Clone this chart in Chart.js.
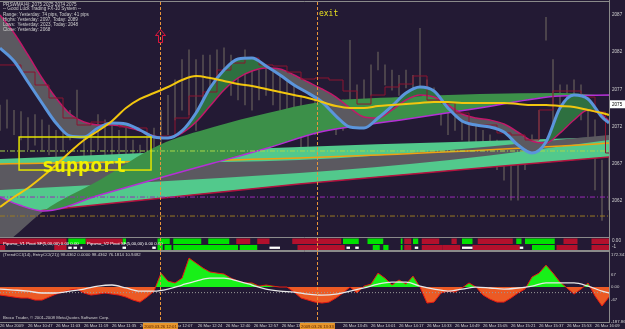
<!DOCTYPE html>
<html><head><meta charset="utf-8">
<script src="https://cdn.jsdelivr.net/npm/chart.js@4.4.1/dist/chart.umd.min.js"></script>
<style>
html,body{margin:0;padding:0;background:#231a34;overflow:hidden;width:625px;height:329px}
canvas{position:absolute;left:0;display:block}
</style></head><body>
<canvas id="cMain" width="625" height="238" style="top:0;width:625px;height:238px"></canvas>
<canvas id="cSig" width="625" height="13" style="top:238px;width:625px;height:13px"></canvas>
<canvas id="cCci" width="625" height="78" style="top:251px;width:625px;height:78px"></canvas>
<script>
// ---------- DATA (x = minutes since first bar) ----------
const gridMinutes = [0,8,16,24,32,40,48,56,64,72,80,88,96,104,112,120,128,136,144,152,160,168,176,184,192,200,208,216,224,232,240,248,256,264,272,280,288,296,304,312,320,328,336,344,348];
const blueCurve = [2082.56,2080.81,2077.99,2075.17,2072.48,2070.73,2070.60,2071.81,2072.48,2072.35,2071.54,2070.60,2070.46,2071.41,2073.82,2077.19,2079.60,2081.08,2081.22,2080.14,2078.93,2077.59,2076.51,2075.30,2073.42,2071.94,2071.81,2073.15,2074.77,2076.51,2077.32,2076.78,2074.50,2072.75,2072.21,2071.94,2071.27,2069.52,2068.45,2069.93,2074.50,2076.24,2075.71,2073.29,2072.48];
const crimsonCurve = [2087.00,2084.58,2081.62,2078.53,2075.84,2073.69,2072.61,2072.21,2072.21,2071.94,2071.41,2070.73,2070.46,2071.14,2072.61,2074.76,2076.92,2078.53,2079.47,2079.87,2079.74,2078.93,2077.99,2077.05,2075.97,2074.49,2073.29,2073.15,2074.23,2075.57,2076.24,2075.97,2074.90,2073.69,2073.15,2072.88,2072.35,2071.27,2070.06,2069.79,2071.14,2072.88,2074.23,2073.56,2072.75];
const stepLine = [2080.28,2080.28,2079.33,2077.59,2075.84,2073.15,2072.21,2072.61,2072.48,2071.94,2071.81,2070.60,2070.73,2073.15,2076.11,2076.65,2079.60,2080.54,2081.22,2080.28,2080.14,2079.33,2078.39,2078.53,2078.26,2076.78,2075.03,2076.24,2077.32,2077.72,2078.80,2075.57,2075.17,2073.82,2072.21,2072.21,2071.14,2070.87,2070.20,2074.23,2076.78,2076.78,2075.97,2073.96,2068.45];
const yellowMA = [2061.19,2062.53,2063.74,2065.22,2066.84,2068.58,2070.20,2071.41,2072.75,2074.50,2075.71,2076.51,2077.32,2078.26,2078.80,2078.53,2078.13,2077.72,2077.45,2077.05,2076.65,2076.24,2075.84,2075.30,2074.76,2074.50,2074.50,2074.76,2074.90,2075.03,2075.17,2075.30,2075.30,2075.17,2075.17,2075.17,2075.17,2075.03,2074.90,2074.90,2074.76,2074.63,2074.23,2073.82,2073.56];

const barMinutes = [0,4,8,12,16,20,24,28,32,36,40,44,48,52,56,60,64,68,72,76,80,84,88,92,96,100,104,108,112,116,120,124,128,132,136,140,144,148,152,156,160,164,168,172,176,180,184,188,192,196,200,204,208,212,216,220,224,228,232,236,240,244,248,252,256,260,264,268,272,276,280,284,288,292,296,300,304,308,312,316,320,324,328,332,336,340,344,348];
const barLow = [2071.5,2071.8,2070.9,2070.2,2068.9,2069.5,2068.9,2068.2,2067.5,2068.9,2070.2,2072.2,2067.5,2066.8,2068.9,2068.2,2067.5,2066.8,2067.5,2066.4,2065.5,2066.8,2067.5,2068.9,2070.9,2072.9,2074.2,2073.6,2071.5,2075.6,2076.2,2076.9,2077.6,2076.2,2075.6,2074.9,2074.2,2075.6,2076.2,2074.9,2074.2,2073.6,2072.9,2068.9,2066.8,2070.9,2071.5,2072.2,2070.9,2071.5,2072.9,2073.6,2074.2,2076.2,2079.6,2077.6,2076.9,2076.2,2077.2,2076.2,2076.9,2075.6,2074.2,2072.2,2070.9,2071.5,2070.2,2069.5,2068.9,2068.2,2066.8,2066.2,2064.8,2062.1,2062.1,2066.2,2067.5,2068.9,2083.6,2071.5,2072.9,2074.2,2074.9,2072.9,2070.2,2063.5,2059.4,2060.8];
const barHigh = [2074.9,2075.6,2074.2,2074.0,2073.2,2073.6,2072.9,2072.2,2071.5,2073.6,2074.2,2076.9,2072.2,2070.9,2073.6,2072.9,2072.2,2071.5,2071.8,2070.2,2069.5,2070.9,2071.8,2074.2,2076.2,2078.3,2081.0,2082.3,2081.0,2081.6,2081.6,2082.3,2082.6,2081.6,2081.0,2082.3,2080.3,2079.6,2080.3,2079.3,2078.9,2078.3,2077.6,2076.2,2074.2,2075.6,2076.2,2075.6,2074.9,2075.6,2083.6,2077.6,2078.3,2080.3,2082.0,2080.3,2079.6,2078.9,2079.6,2078.9,2085.2,2078.3,2077.2,2075.6,2074.2,2074.9,2073.6,2072.9,2072.2,2071.5,2070.9,2070.2,2068.9,2068.2,2066.8,2069.5,2070.9,2074.2,2086.7,2081.0,2077.6,2077.6,2078.3,2077.6,2075.6,2072.9,2067.5,2068.9];

const bandMinutes = [0,11,25,57,91,122,153,183,229,274,320,348];
const bandFast = [2055.68,2057.83,2060.65,2064.82,2069.52,2071.94,2073.82,2075.30,2075.97,2076.38,2076.51,2076.11];
const bandSlow = [2062.53,2061.46,2060.65,2062.80,2065.09,2067.10,2069.12,2071.27,2072.88,2074.50,2076.11,2076.24];
const chanMinutes = [0,171,348];
const chanTop = [2067.64,2069.25,2070.60];
const chanBottom = [2060.11,2064.28,2067.91];
const wedgeMinutes = [0,171,257,348];
const wedgeTop = [2066.97,2067.51,2068.85,2070.87];
const wedgeBottom = [2063.48,2065.76,2067.51,2070.20];
const orangeMinutes = [0,171,331,348];
const orangeLine = [2066.97,2067.78,2069.52,2069.79];
const levelPrices = [2068.72,2062.53,2059.98];
const levelColors = ['#a8d848','#9a2ab8','#9a7a22'];
const priceTicks = [2062,2067,2072,2077,2082,2087];
const lastPrice = 2075;

const cciTrend = [-43,-48,-54,-59,-59,-70,-70,-54,-38,-27,-16,-11,-32,-43,-38,-32,-38,-43,-54,-70,-81,-54,-22,75,32,22,48,156,129,102,81,75,70,48,32,22,22,5,11,5,0,0,-27,-59,-70,-81,-86,-81,-59,-32,0,-32,5,16,75,48,11,38,16,59,0,-86,-81,-32,-22,-27,-5,22,0,-43,-65,-81,-81,-59,-32,-11,54,75,118,75,27,-5,-38,-11,22,-48,-102,-54];
const cciEntry = [-11,-16,-22,-32,-32,-22,-11,5,11,-5,-22,-22,-11,11,32,48,48,32,11,-11,-22,-27,-38,-43,-38,-22,-5,16,27,27,5,-11,-22,-11,0,-5,-11,-5,5,22,22,22,5,-22,-32];
const cciLevel = -30;
const cciTicks = [172.341,67,0,-67,-187.865];
const cciTickLabels = ['172.3410','67','0.00','-67','-187.865'];

const timeTickMinutes = [0,16,32,48,64,80,96,113,129,145,161,177,196,212,228,244,260,276,292,308,324,340];
const timeLabels = ['26 Mar 2009','26 Mar 10:47','26 Mar 11:03','26 Mar 11:19','26 Mar 11:35','26 Mar 11:51','26 Mar 12:07','26 Mar 12:24','26 Mar 12:40','26 Mar 12:57','26 Mar 13:13','26 Mar 13:29','26 Mar 13:45','26 Mar 14:01','26 Mar 14:17','26 Mar 14:33','26 Mar 14:49','26 Mar 15:05','26 Mar 15:21','26 Mar 15:37','26 Mar 15:53','26 Mar 16:09'];
const markerMinutes = [91.4,181.1];
const markerLabels = ['2009.03.26 12:01','2009.03.26 13:33'];

const row1Green = [[39,49],[70,72],[90,97],[99,115],[119,131],[196,205],[210,219],[229,230],[236,239],[264,270],[295,298],[300,317]];
const row1Red = [[0,38],[49,70],[135,143],[147,154],[167,195],[231,235],[241,251],[258,261],[273,293],[322,330],[338,348]];
const row2Green = [[90,93],[94,98],[99,136],[137,147],[213,217],[219,222],[229,230],[304,317]];
const row2Red = [[0,3],[31,38],[170,197],[231,235],[241,253],[253,263],[270,297],[318,330],[338,348]];
const row2White = [[39,41],[42,44],[46,47],[70,72],[87,89],[154,160],[198,200],[203,205],[237,239],[264,270],[297,299]];

const headerLines = ['PRSWMA(4): 2075 2075 2074 2075','-- Good Luck Trading FX-10 System --','Range: Yesterday: 74 pips, Today: 41 pips','Highs: Yesterday: 2097, Today: 2089','Lows:  Yesterday: 2023, Today: 2048','Close: Yesterday: 2068'];
const supportBox = {x0:10.9, x1:86.3, top:2070.60, bottom:2066.16, textX:24, textY:2065.9, text:'support'};
const exitNote = {x:181.7, y:2087.1, text:'exit'};
const upArrow = {x:91.4, y:2085.1};

// ---------- helpers ----------
const FONT = 'Liberation Sans, Arial, sans-serif';
const AXIS_COL = '#8a8a8a';
const TXT = '#d0d0d0';
const xy = (xs, ys) => xs.map((x,i)=>({x, y:ys[i]}));
function drawMarkers(chart, y0, y1){
  const {ctx, scales:{x}} = chart;
  ctx.save(); ctx.strokeStyle='#e8943a'; ctx.lineWidth=1; ctx.setLineDash([3,2]);
  markerMinutes.forEach(m=>{const px=Math.round(x.getPixelForValue(m))+0.5; ctx.beginPath(); ctx.moveTo(px,y0); ctx.lineTo(px,y1); ctx.stroke();});
  ctx.restore();
}
const T = 'rgba(0,0,0,0)';
function line(data,color,width,extra){
  return Object.assign({type:'line',data,borderColor:color,borderWidth:width,pointRadius:0,fill:false,cubicInterpolationMode:'monotone'},extra||{});
}

// ---------- MAIN PANEL ----------
const cMain = document.getElementById('cMain').getContext('2d');
const mint = '#52c98c';
const greenBand = '#3c9049';
const greenFill = '#2e7040';
const grayFill = '#5b5960';

const ds = [];
const add = d => ds.push(d)-1;
add({type:'bar', data: barMinutes.map((x,i)=>({x, y:[barLow[i],barHigh[i]]})), backgroundColor:'rgba(190,180,140,0.32)', borderWidth:0, barThickness:1, order:100});
const iChanBot = add(line(xy(chanMinutes,chanBottom),'#b3123f',1.5,{order:89}));
add(line(xy(chanMinutes,chanTop),T,0,{order:95, fill:{target:iChanBot, above:mint, below:mint}}));
const iWedgeBot = add(line(xy(wedgeMinutes,wedgeBottom),T,0,{order:86}));
add(line(xy(wedgeMinutes,wedgeTop),T,0,{order:85, fill:{target:iWedgeBot, above:grayFill, below:grayFill}}));
add(line(xy(orangeMinutes,orangeLine),'#f0a010',1.6,{order:84}));
const iSlow = add(line(xy(bandMinutes,bandSlow),'#b52fd6',1.5,{order:79}));
add(line(xy(bandMinutes,bandFast),T,0,{order:80, fill:{target:iSlow, above:greenBand, below:grayFill}}));
levelPrices.forEach((p,i)=>add(line([{x:0,y:p},{x:348,y:p}],levelColors[i],1,{order:78, borderDash:[5,2,1,2]})));
const iCr = add(line(xy(gridMinutes,crimsonCurve),'#c2186a',1.5,{order:60}));
add(line(xy(gridMinutes,blueCurve),T,0,{order:75, fill:{target:iCr, above:greenFill, below:grayFill}}));
add(line(xy(gridMinutes,stepLine),'#8c1430',1,{order:59, stepped:'middle'}));
add(line(xy(gridMinutes,blueCurve),'#5b95dc',3,{order:52}));
add(line(xy(gridMinutes,yellowMA),'#f2c60e',2,{order:50}));

const mainDecor = {id:'mainDecor', afterDraw(chart){
  const {ctx, chartArea:a, scales:{x,y}} = chart;
  ctx.save();
  ctx.strokeStyle=AXIS_COL; ctx.lineWidth=1;
  ctx.beginPath(); ctx.moveTo(0,1.5); ctx.lineTo(a.right+0.5,1.5);
  ctx.moveTo(a.right+0.5,0); ctx.lineTo(a.right+0.5,238);
  ctx.moveTo(0,237.5); ctx.lineTo(a.right+0.5,237.5); ctx.stroke();
  drawMarkers(chart, 2, 237);
  ctx.fillStyle=TXT; ctx.font='4.6px '+FONT; ctx.textBaseline='middle'; ctx.textAlign='left';
  const hy=[4.5,9.2,14.5,19.5,24.8,30];
  headerLines.forEach((t,i)=>ctx.fillText(t,3,hy[i]));
  const bx0=x.getPixelForValue(supportBox.x0), bx1=x.getPixelForValue(supportBox.x1);
  const by0=y.getPixelForValue(supportBox.top), by1=y.getPixelForValue(supportBox.bottom);
  ctx.strokeStyle='#e4e400'; ctx.lineWidth=1.5; ctx.strokeRect(bx0,by0,bx1-bx0,by1-by0);
  ctx.fillStyle='#f0f000'; ctx.font='bold 20px "DejaVu Sans Mono", monospace'; ctx.textBaseline='alphabetic';
  ctx.fillText(supportBox.text, x.getPixelForValue(supportBox.textX), y.getPixelForValue(supportBox.textY));
  ctx.fillStyle='#e8e020'; ctx.font='8px "DejaVu Sans Mono", monospace'; ctx.textBaseline='middle';
  ctx.fillText(exitNote.text, x.getPixelForValue(exitNote.x)+1, y.getPixelForValue(exitNote.y));
  const ax=Math.round(x.getPixelForValue(upArrow.x))+0.5, ay=Math.round(y.getPixelForValue(upArrow.y))+0.5;
  ctx.strokeStyle='#e0163c'; ctx.lineWidth=1; ctx.beginPath();
  ctx.moveTo(ax,ay); ctx.lineTo(ax+5,ay+6); ctx.lineTo(ax+2,ay+6); ctx.lineTo(ax+2,ay+13);
  ctx.lineTo(ax-2,ay+13); ctx.lineTo(ax-2,ay+6); ctx.lineTo(ax-5,ay+6); ctx.closePath(); ctx.stroke();
  const py=y.getPixelForValue(lastPrice);
  ctx.fillStyle='#ffffff'; ctx.fillRect(a.right+1, py-4, 15, 8);
  ctx.fillStyle='#000'; ctx.font='4.6px '+FONT; ctx.textBaseline='middle';
  ctx.fillText(String(lastPrice), a.right+3, py+0.5);
  ctx.restore();
}};

new Chart(cMain, {
  type:'line',
  data:{datasets:ds},
  options:{responsive:false, animation:false, devicePixelRatio:1,
    layout:{padding:{top:3,bottom:1,left:0,right:0}},
    plugins:{legend:{display:false}, tooltip:{enabled:false}},
    scales:{
      x:{type:'linear', min:0, max:348, display:false, offset:false},
      y:{type:'linear', position:'right', min:2057.16, max:2088.61, bounds:'data',
        grid:{display:false, drawTicks:false}, border:{display:false},
        afterBuildTicks(s){s.ticks=priceTicks.map(v=>({value:v}));},
        afterFit(s){s.width=16; s.paddingTop=0; s.paddingBottom=0;},
        ticks:{color:TXT, font:{size:4.6, family:FONT}, padding:3, callback:v=>String(v)}}
    }},
  plugins:[mainDecor]
});

// ---------- SIGNAL PANEL ----------
const seg = (segs,row,color,extra)=>Object.assign({data:segs.map(s=>({x:[s[0],s[1]],y:row})), backgroundColor:color, borderWidth:0},extra||{});
const sigDecor = {id:'sigDecor', afterDraw(chart){
  const {ctx, chartArea:a} = chart;
  ctx.save();
  ctx.strokeStyle=AXIS_COL; ctx.lineWidth=1; ctx.beginPath();
  ctx.moveTo(0,12.5); ctx.lineTo(a.right+0.5,12.5); ctx.moveTo(a.right+0.5,0); ctx.lineTo(a.right+0.5,13); ctx.stroke();
  ctx.fillStyle='#ffffff'; ctx.font='4.3px '+FONT; ctx.textBaseline='middle';
  ctx.fillText('Pipsmo_V1 Pivot SF(5,00,00) 0.00 0.00', 3, 5.5);
  ctx.fillText('Pipsmo_V2 Pivot SF(5,00,00) 0.00 0.00', 87, 5.5);
  ctx.fillStyle=TXT; ctx.font='4.6px '+FONT;
  ctx.fillText('0.00', a.right+3, 3); ctx.fillText('-1', a.right+3, 8.5);
  drawMarkers(chart, 0, 13);
  ctx.restore();
}};
new Chart(document.getElementById('cSig').getContext('2d'), {
  type:'bar',
  data:{labels:['r1','r2'], datasets:[
    seg(row1Red,'r1','#b3102c',{order:2}), seg(row1Green,'r1','#00e100',{order:2}),
    seg(row2Red,'r2','#b3102c',{order:2}), seg(row2Green,'r2','#00e100',{order:2}),
    seg(row2White,'r2','#ffffff',{order:1, barPercentage:0.35})]},
  options:{indexAxis:'y', responsive:false, animation:false, devicePixelRatio:1,
    layout:{padding:{right:16,left:0,top:0,bottom:0}},
    datasets:{bar:{grouped:false, categoryPercentage:1, barPercentage:0.85}},
    plugins:{legend:{display:false}, tooltip:{enabled:false}},
    scales:{x:{type:'linear', min:0, max:348, display:false, offset:false}, y:{display:false}}},
  plugins:[sigDecor]
});

// ---------- CCI PANEL ----------
const cCci = document.getElementById('cCci').getContext('2d');
const cciNeg = '#ec5a24';
const cciDecor = {id:'cciDecor', afterDraw(chart){
  const {ctx, chartArea:a, scales:{x}} = chart;
  ctx.save();
  ctx.strokeStyle=AXIS_COL; ctx.lineWidth=1; ctx.beginPath();
  ctx.moveTo(0,0.5); ctx.lineTo(a.right+0.5,0.5);
  ctx.moveTo(a.right+0.5,0); ctx.lineTo(a.right+0.5,72);
  ctx.moveTo(0,a.bottom+0.5); ctx.lineTo(a.right+0.5,a.bottom+0.5); ctx.stroke();
  ctx.fillStyle=TXT; ctx.font='4.3px '+FONT; ctx.textBaseline='middle';
  ctx.fillText('(TrendCCI(14), EntryCCI(21)) 98.4362 0.0000 98.4362 76.1814 10.9482', 3, 4);
  ctx.fillText('Broco Trader, \u00a9 2001-2008 MetaQuotes Software Corp.', 3, 67);
  drawMarkers(chart, 1, a.bottom);
  ctx.font='4.2px '+FONT; ctx.textAlign='center';
  markerMinutes.forEach((m,i)=>{
    const px=x.getPixelForValue(m);
    ctx.fillStyle='#e8962a'; ctx.fillRect(px-17, a.bottom+1, 35, 6.5);
    ctx.fillStyle='#5a2400'; ctx.fillText(markerLabels[i], px+0.5, a.bottom+4.5);
  });
  ctx.restore();
}};
new Chart(cCci, {
  type:'line',
  data:{datasets:[
    {data:xy(barMinutes,cciTrend), borderColor:'#e81a12', borderWidth:1, pointRadius:0, tension:0, order:3,
     fill:{target:'origin', above:'#18f018', below:cciNeg}},
    {data:[{x:0,y:cciLevel},{x:348,y:cciLevel}], borderColor:'#9a9a9a', borderWidth:1, borderDash:[1,2], pointRadius:0, order:2},
    {data:xy(gridMinutes,cciEntry), borderColor:'#e8e8e8', borderWidth:1.3, pointRadius:0, cubicInterpolationMode:'monotone', order:1}
  ]},
  options:{responsive:false, animation:false, devicePixelRatio:1,
    layout:{padding:{top:4,bottom:0,left:0,right:0}},
    plugins:{legend:{display:false}, tooltip:{enabled:false}},
    scales:{
      x:{type:'linear', min:0, max:348, offset:false, grid:{display:false, drawTicks:false}, border:{display:false},
        afterBuildTicks(s){s.ticks=timeTickMinutes.map(v=>({value:v}));},
        afterFit(s){s.height=7; s.paddingLeft=0; s.paddingRight=0;},
        ticks:{align:'start', autoSkip:false, maxRotation:0, minRotation:0, padding:1, color:TXT,
          font:{size:4.2, family:FONT}, callback:(v,i)=>timeLabels[i]}},
      y:{type:'linear', position:'right', min:-187.865, max:172.341, bounds:'data',
        grid:{display:false, drawTicks:false}, border:{display:false},
        afterBuildTicks(s){s.ticks=cciTicks.map(v=>({value:v}));},
        afterFit(s){s.width=16; s.paddingTop=0; s.paddingBottom=0;},
        ticks:{color:TXT, font:{size:4.3, family:FONT}, padding:2, callback:(v,i)=>cciTickLabels[i]}}
    }},
  plugins:[cciDecor]
});
</script></body></html>
